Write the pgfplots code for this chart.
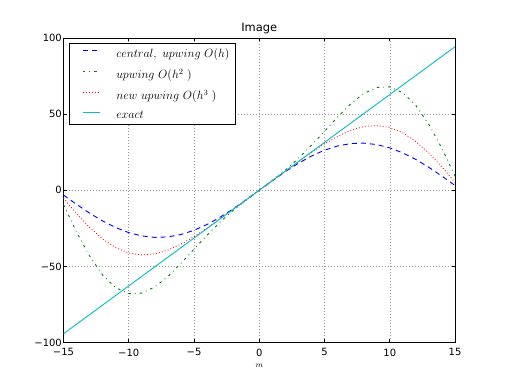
\documentclass[border=0pt]{standalone}
\usepackage{fontspec}
\setmainfont{DejaVu Sans}
\usepackage{pgfplots}
\usepackage{pgfplotstable}
\pgfplotsset{compat=1.18}
\usetikzlibrary{calc}

\definecolor{mplblue}{rgb}{0,0,1}
\definecolor{mplgreen}{rgb}{0,0.5,0}
\definecolor{mplred}{rgb}{1,0,0}
\definecolor{mplcyan}{rgb}{0,0.75,0.75}

% m, central O(h), upwind O(h^2), new upwind O(h^3), exact
\pgfplotstableread{
m   cen      up2      up3      ex
-15 -3.136   -9.393   -5.222   -94.248
-14 -9.280   -27.416  -15.326  -87.965
-13 -15.044  -43.243  -24.444  -81.681
-12 -20.192  -55.706  -32.030  -75.398
-11 -24.514  -64.034  -37.687  -69.115
-10 -27.832  -67.921  -41.195  -62.832
-9  -30.010  -67.543  -42.521  -56.549
-8  -30.960  -63.489  -41.803  -50.265
-7  -30.643  -56.645  -39.310  -43.982
-6  -29.070  -48.044  -35.395  -37.699
-5  -26.308  -38.700  -30.438  -31.416
-4  -22.468  -29.457  -24.798  -25.133
-3  -17.709  -20.884  -18.767  -18.850
-2  -12.225  -13.216  -12.555  -12.566
-1  -6.240   -6.368   -6.283   -6.283
0   0        0        0        0
1   6.240    6.368    6.283    6.283
2   12.225   13.216   12.555   12.566
3   17.709   20.884   18.767   18.850
4   22.468   29.457   24.798   25.133
5   26.308   38.700   30.438   31.416
6   29.070   48.044   35.395   37.699
7   30.643   56.645   39.310   43.982
8   30.960   63.489   41.803   50.265
9   30.010   67.543   42.521   56.549
10  27.832   67.921   41.195   62.832
11  24.514   64.034   37.687   69.115
12  20.192   55.706   32.030   75.398
13  15.044   43.243   24.444   81.681
14  9.280    27.416   15.326   87.965
15  3.136    9.393    5.222    94.248
}\modes

% legend sample: short line with room before the text (matplotlib look)
\pgfplotsset{
    mpl legend/.style={
        legend image code/.code={%
            \path (0bp,0bp) (40bp,0bp);
            \draw[##1] (9bp,3.5bp) -- (26bp,3.5bp);},
    },
}

\begin{document}
\begin{tikzpicture}
\begin{axis}[
    name=ax,
    scale only axis,
    width=391.5bp, height=304.5bp,
    xmin=-15, xmax=15, ymin=-100, ymax=100,
    xtick={-15,-10,-5,0,5,10,15},
    xticklabels={−15,−10,−5,0,5,10,15},
    ytick={-100,-50,0,50,100},
    yticklabels={−100,−50,0,50,100},
    tick label style={font=\fontsize{10}{12}\selectfont},
    yticklabel style={inner xsep=1.5bp},
    xticklabel style={inner ysep=6bp},
    tick align=inside,
    major tick length=3.5bp,
    tick style={black, line width=0.6bp},
    axis line style={black, line width=0.9bp},
    grid=major,
    grid style={black!40, line width=0.5bp, dash pattern=on 1bp off 2bp},
    title={Image},
    title style={font=\fontsize{11.5}{13}\selectfont, yshift=-5bp},
    xlabel={$m$},
    xlabel style={font=\fontsize{8}{9}\selectfont, yshift=2bp},
    mpl legend,
    legend cell align=left,
    legend style={at={(0.014,0.9826)}, anchor=north west, line width=0.9bp,
        font=\fontsize{11.5}{14}\selectfont, row sep=6bp,
        inner xsep=4bp, inner ysep=3bp},
]
\addplot[draw=mplblue, line width=0.9bp, dash pattern=on 5bp off 4bp] table[x=m, y=cen] {\modes};
\addlegendentry{$central,\ upwing\ O(h)$}
\addplot[draw=mplgreen, line width=0.9bp, dash pattern=on 2.5bp off 4bp on 0.8bp off 4bp] table[x=m, y=up2] {\modes};
\addlegendentry{$upwing\ O(h^2\ )$}
\addplot[draw=mplred, line width=0.9bp, dash pattern=on 0.8bp off 2.2bp] table[x=m, y=up3] {\modes};
\addlegendentry{$new\ upwing\ O(h^3\ )$}
\addplot[draw=mplcyan, line width=0.9bp] table[x=m, y=ex] {\modes};
\addlegendentry{$exact$}
\end{axis}
\pgfresetboundingbox
\useasboundingbox ($(ax.south west)+(-63.5bp,-39.5bp)$) rectangle ($(ax.north east)+(51bp,38bp)$);
\end{tikzpicture}
\end{document}
